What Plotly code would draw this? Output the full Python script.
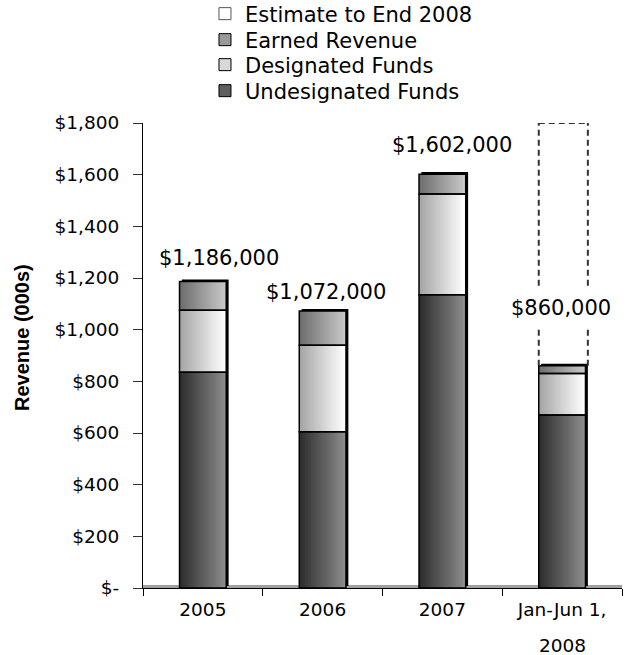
import plotly.graph_objects as go

# Revenue by year (thousands of dollars)
categories = ["2005", "2006", "2007", "Jan-Jun 1, 2008"]
tick_text = ["2005", "2006", "2007", "Jan-Jun 1,"]
undesignated = [835, 605, 1135, 670]
designated = [240, 335, 390, 160]
earned = [111, 132, 77, 30]
estimate_end_2008 = 1800

y_tick_vals = [0, 200, 400, 600, 800, 1000, 1200, 1400, 1600, 1800]
y_tick_text = ["$-" if v == 0 else f"${v:,}" for v in y_tick_vals]

totals = [u + d + e for u, d, e in zip(undesignated, designated, earned)]
total_labels = [f"${t * 1000:,.0f}" for t in totals]

FONT = "'DejaVu Sans', sans-serif"
TITLE_FONT = "Arial, 'Liberation Sans', sans-serif"
BAR_W = 0.39
N_STRIPS = 24
SHADOW_DX = 0.02
SHADOW_DY = 8

# Horizontal gradient end colours (left -> right) for each series
segments = [
    ("Undesignated Funds", undesignated, (46, 46, 46), (140, 140, 140), "#5e5e5e"),
    ("Designated Funds", designated, (165, 165, 165), (255, 255, 255), "#d8d8d8"),
    ("Earned Revenue", earned, (110, 110, 110), (200, 200, 200), "#9a9a9a"),
]


def lerp(c0, c1, t):
    return "rgb(%d,%d,%d)" % tuple(round(a + (b - a) * t) for a, b in zip(c0, c1))


fig = go.Figure()

# drop shadow behind each stacked column
fig.add_trace(go.Bar(
    x=categories, y=totals, base=SHADOW_DY,
    offset=-BAR_W / 2 + SHADOW_DX, width=BAR_W,
    marker=dict(color="black", line=dict(width=0)),
    showlegend=False, hoverinfo="skip",
))

# gradient fill, built from thin vertical strips of each segment
bases = [0] * len(categories)
seg_bases = []
for name, vals, c0, c1, mid in segments:
    seg_bases.append(list(bases))
    sw = BAR_W / N_STRIPS
    for i in range(N_STRIPS):
        w = sw * 1.5 if i < N_STRIPS - 1 else sw
        fig.add_trace(go.Bar(
            x=categories, y=vals, base=list(bases),
            offset=-BAR_W / 2 + i * sw, width=w,
            marker=dict(color=lerp(c0, c1, i / (N_STRIPS - 1)), line=dict(width=0)),
            showlegend=False, hoverinfo="skip",
        ))
    bases = [b + v for b, v in zip(bases, vals)]

# black outlines of each segment
for (name, vals, c0, c1, mid), b in zip(segments, seg_bases):
    fig.add_trace(go.Bar(
        x=categories, y=vals, base=b,
        offset=-BAR_W / 2, width=BAR_W,
        marker=dict(color="rgba(0,0,0,0)", line=dict(color="black", width=1.5)),
        showlegend=False, hoverinfo="skip",
    ))

# estimate for the remainder of 2008 (outline only)
est_idx = len(categories) - 1
est_base = totals[est_idx]
fig.add_trace(go.Bar(
    x=[categories[est_idx]], y=[estimate_end_2008 - est_base], base=[est_base],
    offset=-BAR_W / 2, width=BAR_W + SHADOW_DX,
    marker=dict(color="rgba(0,0,0,0)", line=dict(width=0)),
    showlegend=False, hoverinfo="skip",
))

# legend entries, one row per legend box
legend_items = [("Estimate to End 2008", "white", "#555555")] + [
    (name, mid, "black") for name, vals, c0, c1, mid in reversed(segments)
]
legend_rows_px = [14, 40, 65, 91]
legend_layout = {}
for k, ((name, fill, edge), row_px) in enumerate(zip(legend_items, legend_rows_px)):
    key = "legend" if k == 0 else f"legend{k + 1}"
    fig.add_trace(go.Bar(
        x=[categories[0]], y=[None], name=name, legend=key,
        marker=dict(color=fill, line=dict(color=edge, width=1)),
        hoverinfo="skip",
    ))
    legend_layout[key] = dict(
        x=0.1294, y=(588 - row_px) / 465, xanchor="left", yanchor="middle",
        font=dict(family=FONT, size=21, color="black"),
        bgcolor="rgba(0,0,0,0)", itemwidth=30,
    )

# dashed outline of the estimate column
x_left = est_idx - BAR_W / 2
x_right = est_idx + BAR_W / 2 + SHADOW_DX
dash = dict(color="#333333", width=2, dash="6px,4px")
shapes = [
    dict(type="line", xref="x", yref="y", x0=x_left, x1=x_left, y0=est_base, y1=estimate_end_2008, line=dash),
    dict(type="line", xref="x", yref="y", x0=x_right, x1=x_right, y0=est_base, y1=estimate_end_2008, line=dash),
    dict(type="line", xref="x", yref="y", x0=x_left, x1=x_right, y0=estimate_end_2008, y1=estimate_end_2008, line=dash),
    # grey floor along the category axis
    dict(type="rect", xref="paper", yref="y", ysizemode="pixel", yanchor=0,
         x0=0, x1=1, y0=0, y1=3, fillcolor="#a0a0a0", line=dict(width=0), layer="below"),
]

# total labels above each column
label_dx = [16, 3, 10, -1]
label_dy = [24, 19, 29, 58]
annotations = []
for idx, (t, lab, dx, dy) in enumerate(zip(totals, total_labels, label_dx, label_dy)):
    annotations.append(dict(
        x=idx, y=t, xref="x", yref="y", text=lab, showarrow=False,
        xanchor="center", yanchor="middle", xshift=dx, yshift=dy,
        font=dict(family=FONT, size=21, color="black"),
        bgcolor="white", borderpad=8 if idx == est_idx else 1,
    ))
annotations.append(dict(
    x=est_idx, y=0, xref="x", yref="paper", yshift=-57,
    text="2008", showarrow=False, xanchor="center", yanchor="middle",
    font=dict(family=FONT, size=18.5, color="black"),
))
annotations.append(dict(
    x=0, y=0.5376, xref="paper", yref="paper", xshift=-121,
    text="<b>Revenue (000s)</b>", textangle=-90, showarrow=False,
    xanchor="center", yanchor="middle",
    font=dict(family=TITLE_FONT, size=20, color="black"),
))

fig.update_layout(
    width=626, height=655,
    margin=dict(l=143, r=4, t=123, b=67, autoexpand=False),
    paper_bgcolor="white", plot_bgcolor="white",
    barmode="overlay",
    font=dict(family=FONT, color="black"),
    showlegend=True,
    shapes=shapes,
    annotations=annotations,
    xaxis=dict(
        type="category", categoryorder="array", categoryarray=categories,
        tickvals=categories, ticktext=tick_text,
        tickson="boundaries", ticks="outside", ticklen=7, tickcolor="black",
        ticklabelstandoff=5,
        showline=True, linecolor="black", linewidth=1,
        showgrid=False, zeroline=False,
        tickfont=dict(family=FONT, size=18.5, color="black"),
        range=[-0.5, len(categories) - 0.5],
    ),
    yaxis=dict(
        range=[0, 1800], tickvals=y_tick_vals, ticktext=y_tick_text,
        ticks="outside", ticklen=9, tickcolor="#333333",
        ticklabelstandoff=10,
        showline=True, linecolor="black", linewidth=1,
        showgrid=False, zeroline=False,
        tickfont=dict(family=FONT, size=18.5, color="black"),
    ),
    **legend_layout,
)

fig.write_html("out.html")
